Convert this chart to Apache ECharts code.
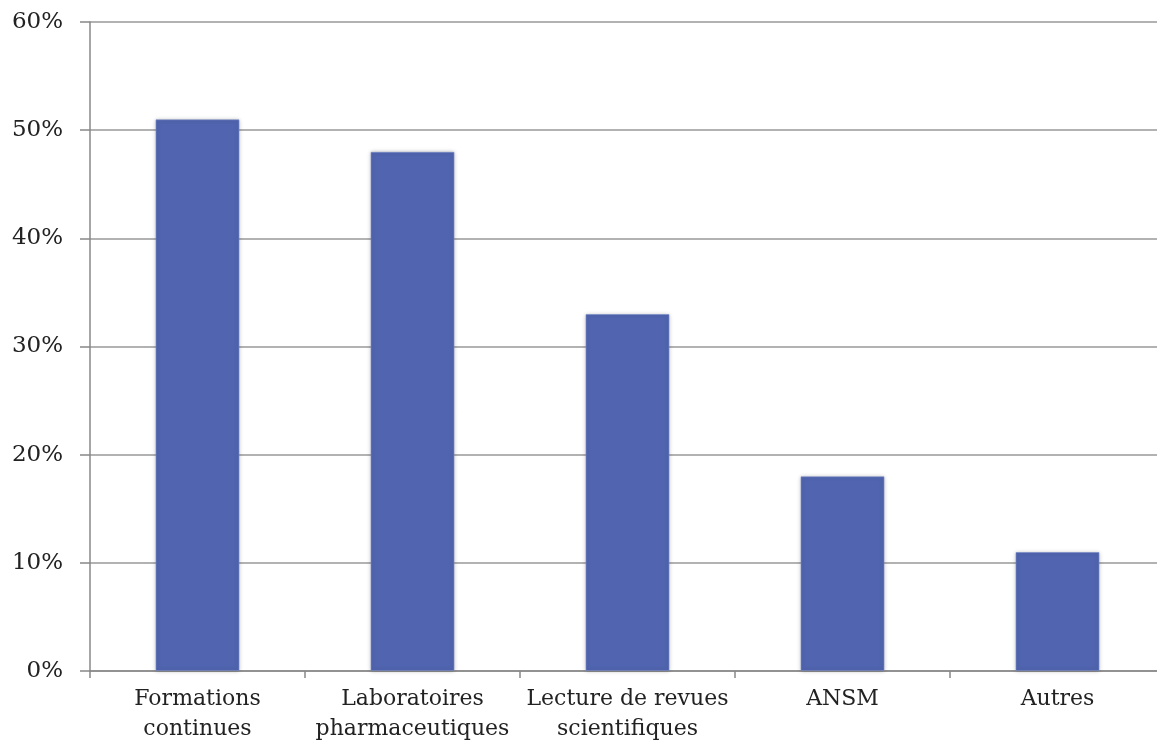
<!DOCTYPE html>
<html><head><meta charset="utf-8">
<script src="https://cdn.jsdelivr.net/npm/echarts@6/dist/echarts.min.js"></script>
<style>html,body{margin:0;padding:0;background:#fff;overflow:hidden;width:1157px;height:751px}#c{width:1165px;height:751px}</style>
</head><body><div id="c"></div>
<script>
const categories = ['Formations\ncontinues', 'Laboratoires\npharmaceutiques', 'Lecture de revues\nscientifiques', 'ANSM', 'Autres'];
const values = [51, 48, 33, 18, 11];
const yTicks = [0, 10, 20, 30, 40, 50, 60];

const chart = echarts.init(document.getElementById('c'), null, {renderer: 'canvas'});
const font = '"DejaVu Serif", serif';
chart.setOption({
  animation: false,
  grid: {left: 90, right: 0, top: 22, bottom: 80},
  xAxis: {
    type: 'category', data: categories,
    axisLine: {lineStyle: {color: '#888', width: 1.5}},
    axisTick: {show: true, length: 7, alignWithLabel: false, lineStyle: {color: '#888', width: 1.5}},
    axisLabel: {color: '#222', fontFamily: font, fontSize: 22, lineHeight: 30, margin: 13, interval: 0}
  },
  yAxis: {
    type: 'value', min: yTicks[0], max: yTicks[yTicks.length - 1], interval: 10,
    axisLine: {show: true, lineStyle: {color: '#888', width: 1.5}},
    axisTick: {show: true, length: 10, lineStyle: {color: '#888', width: 1.5}},
    splitLine: {lineStyle: {color: '#999', width: 1.5}},
    axisLabel: {color: '#222', fontFamily: font, fontSize: 23, margin: 27, formatter: v => v + '%'}
  },
  series: [{
    type: 'bar', data: values, barWidth: 84,
    itemStyle: {color: '#5064AF', shadowColor: 'rgba(0,0,0,0.25)', shadowBlur: 4, borderColor: 'rgba(120,140,200,0.6)', borderWidth: 1}
  }]
});
</script></body></html>
